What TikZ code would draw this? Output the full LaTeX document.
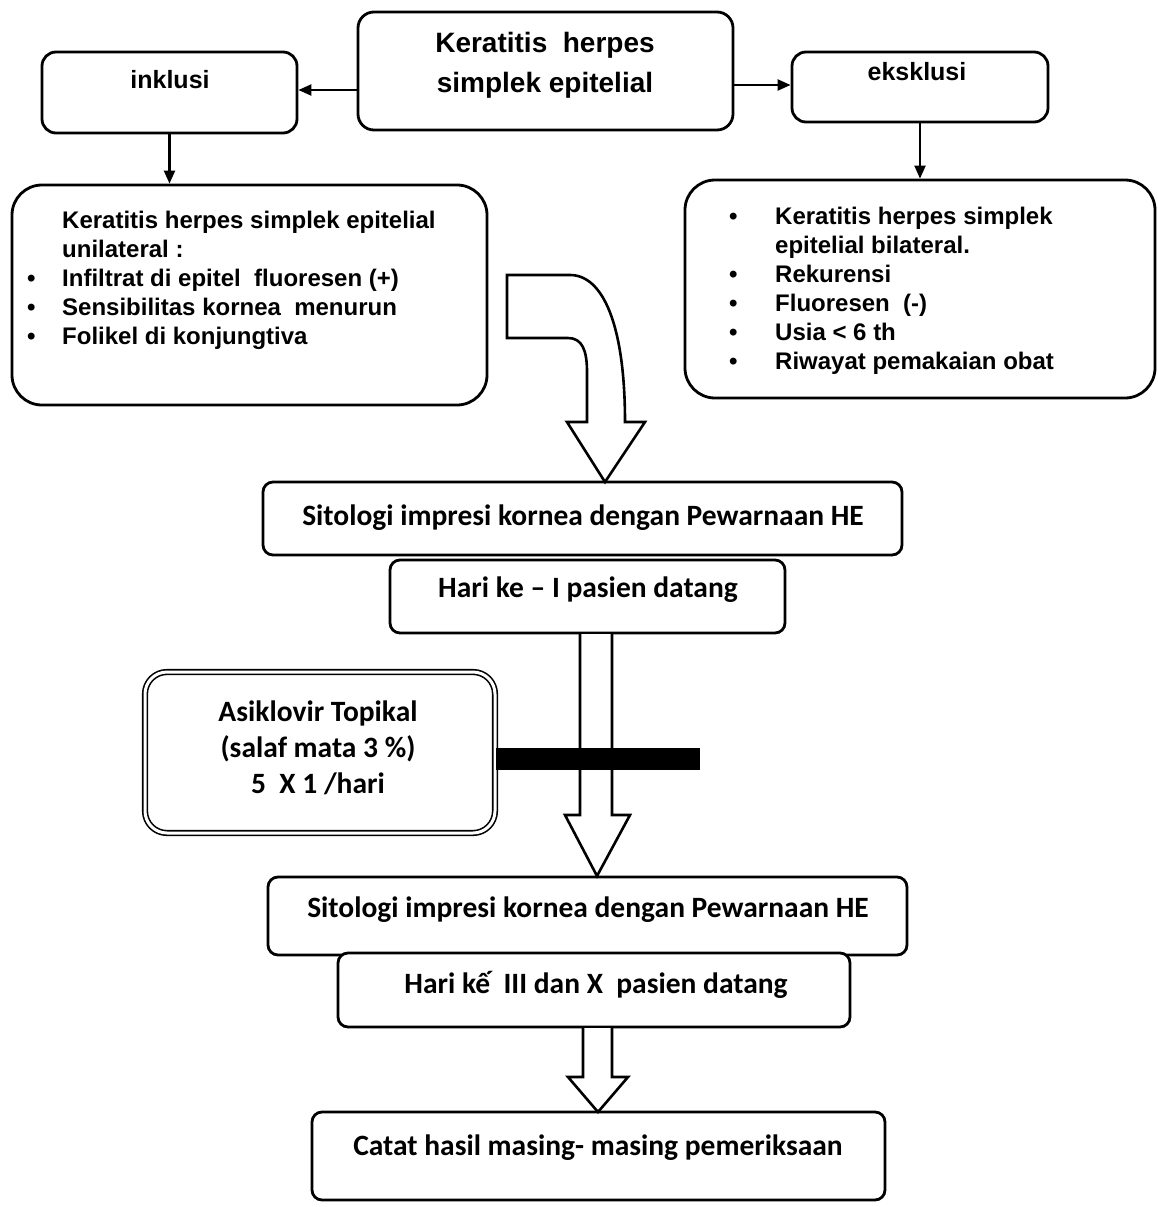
\documentclass[tikz,border=0pt]{standalone}
\usepackage{fontspec}
\setmainfont{Liberation Sans}
\newfontfamily\calib{Carlito}[Ligatures=TeX]
\usetikzlibrary{arrows.meta,calc}
\begin{document}
\begin{tikzpicture}[x=1pt,y=-1pt,
  box/.style={draw,line width=2.8pt,rounded corners=#1,inner sep=0pt},
  box/.default=14pt,
  ar/.style={-{Triangle[length=13pt,width=11pt]},line width=2.2pt},
  hollow/.style={draw,line width=2.6pt,fill=white,line join=miter},
  atxt/.style={font=\fontsize{#1}{29}\selectfont\bfseries,inner sep=0pt},
  ctxt/.style={font=\calib\fontsize{29.5}{36}\selectfont\bfseries,inner sep=0pt,align=center}]
\useasboundingbox (0,0) rectangle (1158,1207);
% top row
\node[box=16pt,minimum width=375pt,minimum height=118pt] (top) at (545.5,71) {};
\node[align=center,inner sep=0pt,font=\fontsize{28}{40}\selectfont\bfseries] (toptext) at (545,65) {Keratitis\ \ herpes\\simplek epitelial};
\node[box,minimum width=255pt,minimum height=81pt] (inkl) at (169.5,92.5) {};
\node[atxt=25] (inkltext) at (170,80) {inklusi};
\node[box,minimum width=256pt,minimum height=70pt] (eksk) at (920,87) {};
\node[atxt=25] (eksktext) at (917,72) {eksklusi};
\coordinate (lA) at ($(top.west)+(0,19)$);
\coordinate (rA) at ($(top.east)+(0,14)$);
\draw[ar] (lA) -- (lA -| inkl.east);
\draw[ar] (rA) -- (rA -| eksk.west);
% criteria boxes
\node[box=30pt,minimum width=475pt,minimum height=220pt] (leftbox) at (249.5,295) {};
\node[box=30pt,minimum width=470pt,minimum height=218pt] (rightbox) at (920,289) {};
\draw[ar] (inkl.south) -- (inkl.south |- leftbox.north);
\draw[ar] (eksk.south) -- (eksk.south |- rightbox.north);
\node[atxt=24,anchor=north west,align=left] (lefttext) at (27,211) {%
\makebox[35pt][l]{}Keratitis herpes simplek epitelial\\
\makebox[35pt][l]{}unilateral :\\
\makebox[35pt][l]{\textbullet}Infiltrat di epitel\ \ fluoresen (+)\\
\makebox[35pt][l]{\textbullet}Sensibilitas kornea\ \ menurun\\
\makebox[35pt][l]{\textbullet}Folikel di konjungtiva};
\node[atxt=24,anchor=north west,align=left] (righttext) at (729,207) {%
\makebox[46pt][l]{\textbullet}Keratitis herpes simplek\\
\makebox[46pt][l]{}epitelial bilateral.\\
\makebox[46pt][l]{\textbullet}Rekurensi\\
\makebox[46pt][l]{\textbullet}Fluoresen\ \ (-)\\
\makebox[46pt][l]{\textbullet}Usia < 6 th\\
\makebox[46pt][l]{\textbullet}Riwayat pemakaian obat};
% curved hollow arrow
\draw[hollow] (507,275) -- (570,275) .. controls (603,275) and (625,325) .. (625,422)
  -- (645,422) -- (605,482) -- (567,422) -- (587,422) -- (587,372)
  .. controls (587,350) and (582,338) .. (568,338) -- (507,338) -- cycle;
% first examination
\node[box=10pt,minimum width=639pt,minimum height=73pt] (sit1) at (582.5,518.5) {};
\node[ctxt] (sit1text) at (583,518) {Sitologi impresi kornea dengan Pewarnaan HE};
\node[box=10pt,minimum width=395pt,minimum height=73pt,fill=white] (hari1) at (587.5,596.5) {};
\node[ctxt] (hari1text) at (588,590) {Hari ke – I pasien datang};
% hollow arrow 1
\draw[hollow] (580,634) -- (580,815) -- (565,815) -- (597,876) -- (630,815) -- (612,815) -- (612,634);
% therapy
\node[draw,line width=1.6pt,double,double distance=3pt,rounded corners=22pt,minimum width=350pt,minimum height=161pt] (asik) at (320,752.5) {};
\node[ctxt] (asiktext) at (318,748) {Asiklovir Topikal\\(salaf mata 3 \%)\\5\ \ X 1 /hari};
\coordinate (barend) at (700,759);
\draw[line width=22pt] (asik.east |- barend) -- (barend);
% second examination
\node[box=10pt,minimum width=639pt,minimum height=78pt] (sit2) at (587.5,916) {};
\node[ctxt] (sit2text) at (588,910) {Sitologi impresi kornea dengan Pewarnaan HE};
\node[box=10pt,minimum width=512pt,minimum height=74pt,fill=white] (hari2) at (594,990) {};
\node[ctxt] (hari2text) at (596,985) {Hari kế\ \ III dan X\ \ pasien datang};
% hollow arrow 2
\draw[hollow] (583,1028) -- (583,1077) -- (568,1077) -- (598,1112) -- (628,1077) -- (612,1077) -- (612,1028);
% result
\node[box=10pt,minimum width=573pt,minimum height=88pt] (catat) at (598.5,1156) {};
\node[ctxt] (catattext) at (598,1148) {Catat hasil masing- masing pemeriksaan};
\end{tikzpicture}
\end{document}
